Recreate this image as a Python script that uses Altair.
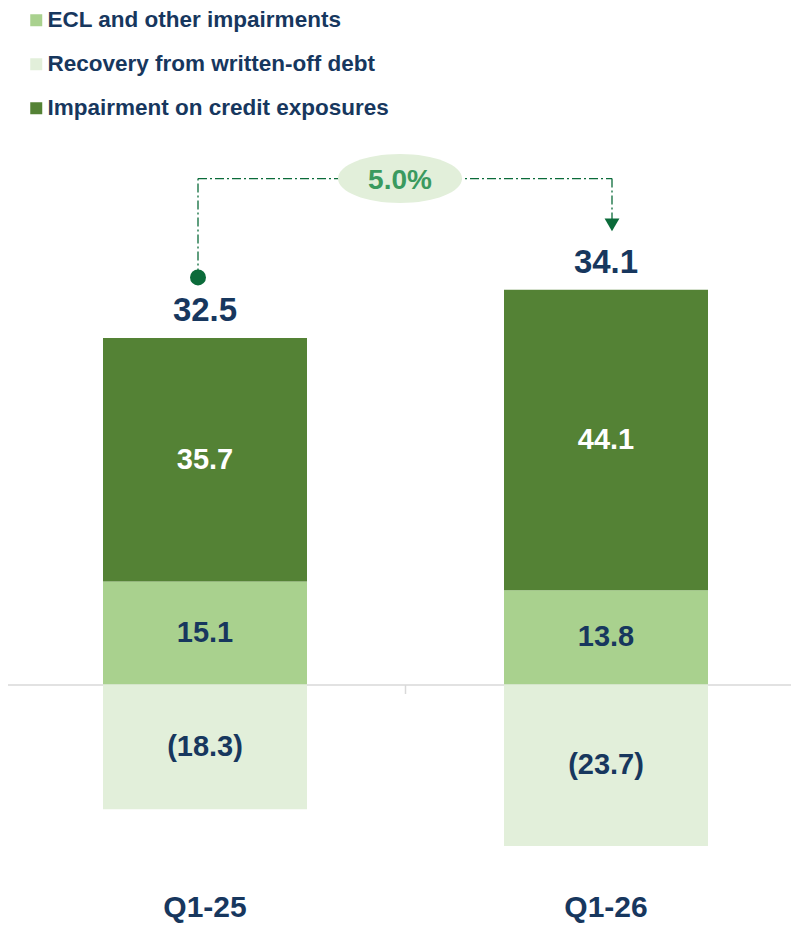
import altair as alt
import pandas as pd

# ---- data ----
quarters = ["Q1-25", "Q1-26"]
series_names = ["ECL and other impairments", "Recovery from written-off debt", "Impairment on credit exposures"]
series_colors = ["#a9d18e", "#e2efda", "#548235"]
ecl_values = [15.1, 13.8]
recovery_values = [-18.3, -23.7]
impairment_values = [35.7, 44.1]
total_labels = ["32.5", "34.1"]
change_label = "5.0%"
bracket_levels = [59.7, 74.2, 67.4]  # start, top, end of the change bracket (chart units)

NAVY = "#17375e"
LINE_GREEN = "#0b6b3a"
FONT = "Liberation Sans"

stack_rank = {series_names[0]: 1, series_names[1]: 0, series_names[2]: 2}
rows = []
for i, q in enumerate(quarters):
    for name, vals in zip(series_names, [ecl_values, recovery_values, impairment_values]):
        rows.append({"quarter": q, "series": name, "value": vals[i], "rank": stack_rank[name]})
bars_df = pd.DataFrame(rows)

totals_df = pd.DataFrame({
    "quarter": quarters,
    "top": [e + m for e, m in zip(ecl_values, impairment_values)],
    "label": total_labels,
})

AXIS = alt.Axis(
    title=None, orient="bottom", offset=-204.5, bandPosition=0,
    domainColor="#d9d9d9", domainWidth=1.5, tickColor="#d9d9d9", tickWidth=1.5, tickSize=9,
    labelPadding=199, labelFont=FONT, labelFontSize=30, labelFontWeight="bold",
    labelColor=NAVY, labelAngle=0,
)
X_SCALE = alt.Scale(paddingInner=0, paddingOuter=0, range=[-3.5, 798.5])
Y_SCALE = alt.Scale(domain=[-30, 80], nice=False, zero=False)


def xq(field="quarter", band=None):
    kw = {}
    if band is not None:
        kw["bandPosition"] = band
    return alt.X(f"{field}:N", sort=quarters, scale=X_SCALE, axis=AXIS, **kw)


bars = alt.Chart(bars_df).mark_bar(size=204).encode(
    x=xq(),
    y=alt.Y("value:Q", stack="zero", scale=Y_SCALE, axis=None),
    color=alt.Color(
        "series:N",
        scale=alt.Scale(domain=series_names, range=series_colors),
        legend=alt.Legend(
            title=None, orient="none", legendX=17, legendY=-130, direction="vertical",
            symbolType="square", symbolSize=144, symbolStrokeWidth=0,
            labelFont=FONT, labelFontSize=22.5, labelFontWeight="bold", labelColor=NAVY,
            labelOffset=0, rowPadding=21, padding=0, labelLimit=0, values=series_names,
        ),
    ),
    order=alt.Order("rank:Q"),
)

seg_labels = alt.Chart(bars_df).transform_stack(
    stack="value", groupby=["quarter"], as_=["v0", "v1"],
    sort=[alt.SortField("rank", order="ascending")],
).transform_calculate(
    mid="(datum.v0 + datum.v1) / 2",
    label="datum.value < 0 ? '(' + format(-datum.value, '.1f') + ')' : format(datum.value, '.1f')",
).mark_text(font=FONT, fontSize=29, fontWeight="bold", baseline="middle").encode(
    x=xq(),
    y=alt.Y("mid:Q", scale=Y_SCALE, axis=None),
    text="label:N",
    color=alt.condition(alt.datum.series == series_names[2], alt.value("white"), alt.value(NAVY)),
)

totals = alt.Chart(totals_df).mark_text(
    font=FONT, fontSize=33, fontWeight="bold", baseline="alphabetic", dy=-17, color=NAVY
).encode(
    x=xq(),
    y=alt.Y("top:Q", scale=Y_SCALE, axis=None),
    text="label:N",
)

dash = [9, 3, 2, 3]
left_df = pd.DataFrame({"quarter": [quarters[0]], "y0": [bracket_levels[0]], "y1": [bracket_levels[1]]})
left_rule = alt.Chart(left_df).mark_rule(color=LINE_GREEN, strokeDash=dash, strokeWidth=1.3, xOffset=-7).encode(
    x=xq(), y=alt.Y("y0:Q", scale=Y_SCALE, axis=None), y2="y1:Q"
)
top_df = pd.DataFrame({"quarter": [quarters[0]], "quarter2": [quarters[1]], "y": [bracket_levels[1]]})
top_rule = alt.Chart(top_df).mark_rule(color=LINE_GREEN, strokeDash=dash, strokeWidth=1.3, xOffset=-7, x2Offset=6).encode(
    x=xq(band=0.5), x2=alt.X2("quarter2:N", bandPosition=0.5), y=alt.Y("y:Q", scale=Y_SCALE, axis=None)
)
right_df = pd.DataFrame({"quarter": [quarters[1]], "y0": [bracket_levels[1]], "y1": [bracket_levels[2]]})
right_rule = alt.Chart(right_df).mark_rule(color=LINE_GREEN, strokeDash=dash, strokeWidth=1.3, xOffset=6).encode(
    x=xq(), y=alt.Y("y0:Q", scale=Y_SCALE, axis=None), y2="y1:Q"
)
arrow_df = pd.DataFrame({"quarter": [quarters[1]], "y": [bracket_levels[2]]})
arrow = alt.Chart(arrow_df).mark_point(
    shape="triangle-down", size=220, filled=True, color=LINE_GREEN, opacity=1, xOffset=6
).encode(x=xq(), y=alt.Y("y:Q", scale=Y_SCALE, axis=None))
dot_df = pd.DataFrame({"quarter": [quarters[0]], "y": [bracket_levels[0]]})
dot = alt.Chart(dot_df).mark_circle(size=256, color=LINE_GREEN, opacity=1, xOffset=-7).encode(
    x=xq(), y=alt.Y("y:Q", scale=Y_SCALE, axis=None)
)

badge_df = pd.DataFrame({"quarter": [quarters[1]], "y": [bracket_levels[1]], "label": [change_label]})
ellipse = alt.Chart(badge_df).mark_point(
    shape="M-1,0A1,0.395 0 1,1 1,0A1,0.395 0 1,1 -1,0Z", size=15376, filled=True,
    color="#e2efda", opacity=1, strokeWidth=0, xOffset=-5.5
).encode(x=xq(band=0), y=alt.Y("y:Q", scale=Y_SCALE, axis=None))
badge_text = alt.Chart(badge_df).mark_text(
    font=FONT, fontSize=28, fontWeight="bold", color="#3a9a5f", baseline="middle", dx=-5.5, dy=2
).encode(x=xq(band=0), y=alt.Y("y:Q", scale=Y_SCALE, axis=None), text="label:N")

chart = alt.layer(
    bars, seg_labels, totals, left_rule, top_rule, right_rule, arrow, ellipse, badge_text, dot
).properties(
    width=783, height=750,
    padding={"left": 0, "top": 131, "right": 0, "bottom": 36},
    autosize=alt.AutoSizeParams(type="none"),
).configure_view(stroke=None)

chart.save("out.html", embed_options={"renderer": "svg", "actions": False})
